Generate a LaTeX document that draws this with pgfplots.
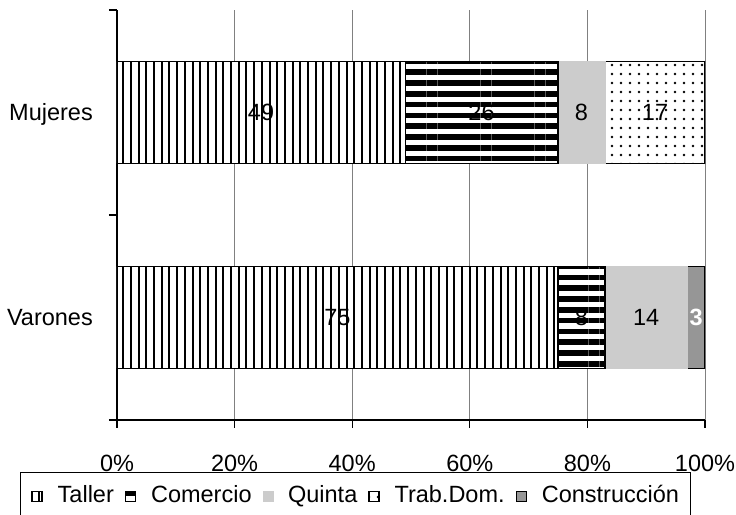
\documentclass[border=0pt]{standalone}
\usepackage{fontspec}
\setmainfont{Liberation Sans}
\usepackage{pgfplots}
\usepackage{pgfplotstable}
\pgfplotsset{compat=1.18}
\usetikzlibrary{patterns.meta}
\definecolor{quinta}{RGB}{204,204,204}
\definecolor{constr}{RGB}{150,150,150}
\definecolor{gridc}{RGB}{128,128,128}

\pgfplotstableread{
c taller comercio quinta trab constr
0.5 75 8 14 0 3
1.5 49 26 8 17 0
}\data

\pgfplotsset{
 seglab/.style={
  point meta=explicit,
  nodes near coords={\pgfmathfloatifflags{\pgfplotspointmeta}{0}{}{\pgfmathprintnumber[assume math mode=true]{\pgfplotspointmeta}}},
  nodes near coords align=center,
  every node near coord/.append style={anchor=center, inner sep=0pt, text=black},
 }
}

\begin{document}
\fontsize{23.5}{28}\selectfont
\begin{tikzpicture}[font=\fontsize{23.5}{28}\selectfont]
\begin{axis}[
 name=ax,
 scale only axis, width=588pt, height=410pt,
 xbar stacked, bar width=102pt,
 xmin=0, xmax=100, ymin=0, ymax=2,
 axis x line*=bottom, axis y line*=left,
 axis line style={black, line width=1.2pt},
 xtick={0,20,40,60,80,100},
 xticklabel={\pgfmathprintnumber[assume math mode=true]{\tick}\%},
 xticklabel style={anchor=north, inner sep=0pt, yshift=-27pt},
 xmajorgrids, grid style={gridc, line width=1pt},
 ytick={0,1,2}, yticklabels={,,},
 extra y ticks={0.5,1.5}, extra y tick labels={Varones,Mujeres},
 extra y tick style={major tick length=0pt, yticklabel style={anchor=base east, inner sep=0pt, xshift=-24pt, yshift=-8.4pt}},
 tick align=outside, major tick length=8pt,
 tick style={black, line width=1.2pt},
 legend columns=5,
 legend style={at={(0,0)}, anchor=north west, xshift=-97pt, yshift=-52pt,
   draw=black, line width=1pt, inner xsep=0pt, inner ysep=12pt,
   nodes={inner sep=0pt, text height=18pt, text depth=6pt, anchor=west},
   font=\fontsize{23.5}{28}\selectfont},
 legend image code/.code={\draw[#1] (0pt,-5pt) rectangle (10pt,5pt); \path (-11pt,0pt) (25pt,0pt);},
]
\addplot[fill=white, draw=black, line width=1.2pt,
  postaction={pattern={Lines[angle=90,distance=7.7pt,line width=2pt]}},
  seglab] table[x=taller, y=c, meta=taller] {\data};
\addlegendentry{Taller}
\addplot[fill=white, draw=black, line width=1.2pt,
  postaction={pattern={Lines[angle=0,distance=10.8pt,line width=5.5pt]}},
  seglab] table[x=comercio, y=c, meta=comercio] {\data};
\addlegendentry{Comercio}
\addplot[fill=quinta, draw=quinta, line width=0.5pt,
  seglab] table[x=quinta, y=c, meta=quinta] {\data};
\addlegendentry{Quinta}
\addplot[fill=white, draw=black, line width=1.2pt,
  postaction={pattern={Dots[distance=9pt,radius=1.4pt]}},
  seglab] table[x=trab, y=c, meta=trab] {\data};
\addlegendentry{Trab.Dom.}
\addplot[fill=constr, draw=black, line width=1.2pt,
  seglab, every node near coord/.append style={text=white, font=\fontsize{23.5}{28}\selectfont\bfseries}] table[x=constr, y=c, meta=constr] {\data};
\addlegendentry{Construcción\hspace*{11pt}}
\end{axis}
\pgfresetboundingbox
\path ([shift={(-117pt,-95pt)}]ax.south west) rectangle ([shift={(31pt,10pt)}]ax.north east);
\end{tikzpicture}
\end{document}
